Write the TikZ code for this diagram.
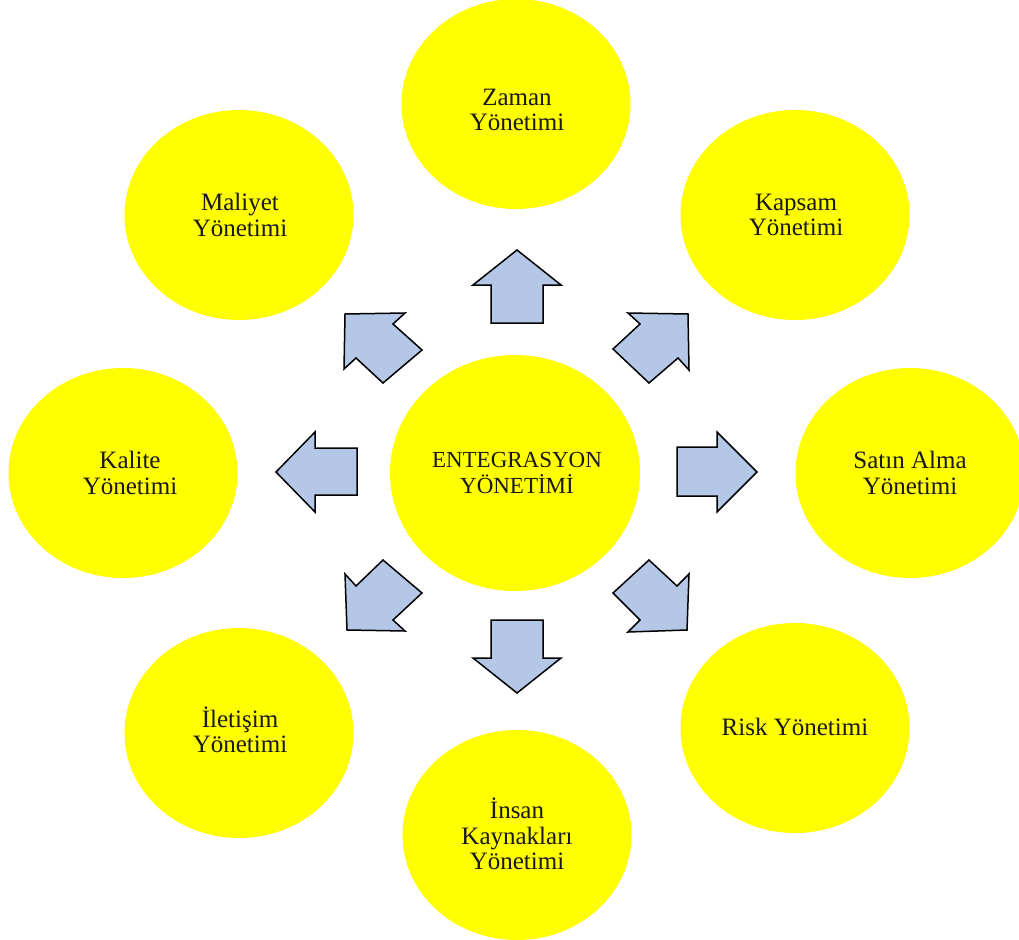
\documentclass[tikz,border=0pt]{standalone}
\usepackage{fontspec}
\setmainfont{Liberation Serif}
\usetikzlibrary{shapes.geometric}
\definecolor{blobyellow}{HTML}{FFFF00}
\definecolor{arrowblue}{HTML}{B4C7E7}
\tikzset{
  blob/.style={ellipse, fill=blobyellow, draw=none, inner sep=0pt,
    minimum width=229pt, minimum height=210pt},
  centerblob/.style={blob, minimum width=250pt, minimum height=236pt},
  lbl/.style={align=center, font=\fontsize{25}{25.5}\selectfont, text=black!90},
  blockarrow/.style={fill=arrowblue, draw=black, line width=1.5pt, line join=miter}
}
\begin{document}
\begin{tikzpicture}[x=1pt,y=-1pt]
\useasboundingbox (0,0) rectangle (1019,939);
\fill[white] (0,0) rectangle (1019,939);
% ellipses
\node[blob] (zaman) at (516,104) {};
\node[blob] (maliyet) at (239,215) {};
\node[blob] (kapsam) at (795,215) {};
\node[blob] (kalite) at (123,473) {};
\node[centerblob] (merkez) at (515,473) {};
\node[blob] (satin) at (910,473) {};
\node[blob] (iletisim) at (239,733) {};
\node[blob] (risk) at (795,728) {};
\node[blob] (insan) at (517,835) {};
% labels
\node[lbl] (zamanT) at (517,110) {Zaman\\Yönetimi};
\node[lbl] (maliyetT) at (240,215) {Maliyet\\Yönetimi};
\node[lbl] (kapsamT) at (796,215) {Kapsam\\Yönetimi};
\node[lbl] (kaliteT) at (130,473) {Kalite\\Yönetimi};
\node[lbl, font=\fontsize{23}{25.5}\selectfont] (merkezT) at (517,473) {ENTEGRASYON\\YÖNETİMİ};
\node[lbl] (satinT) at (910,473) {Satın Alma\\Yönetimi};
\node[lbl] (iletisimT) at (240,730) {İletişim\\Yönetimi};
\node[lbl] (riskT) at (795,727) {Risk Yönetimi};
\node[lbl] (insanT) at (517,834) {İnsan\\Kaynakları\\Yönetimi};
% block arrows
\draw[blockarrow] (517,250) -- (561,285) -- (543,285) -- (543,323) -- (491,323) -- (491,285) -- (473,285) -- cycle;
\draw[blockarrow] (517,693) -- (561,658) -- (543,658) -- (543,620) -- (491,620) -- (491,658) -- (473,658) -- cycle;
\draw[blockarrow] (276,472) -- (315,432) -- (315,448) -- (357,448) -- (357,495) -- (315,495) -- (315,512) -- cycle;
\draw[blockarrow] (757,472) -- (717,432) -- (717,447) -- (677,447) -- (677,496) -- (717,496) -- (717,512) -- cycle;
\draw[blockarrow] (345,314) -- (405,313) -- (393,324) -- (422,350) -- (383,383) -- (356,358) -- (344,369) -- cycle;
\draw[blockarrow] (688,314) -- (628,313) -- (640,324) -- (613,349) -- (649,383) -- (678,358) -- (689,370) -- cycle;
\draw[blockarrow] (345,574) -- (356,586) -- (383,560) -- (422,593) -- (393,620) -- (405,631) -- (347,630) -- cycle;
\draw[blockarrow] (689,574) -- (677,586) -- (649,560) -- (613,593) -- (640,620) -- (628,632) -- (687,630) -- cycle;
\end{tikzpicture}
\end{document}
